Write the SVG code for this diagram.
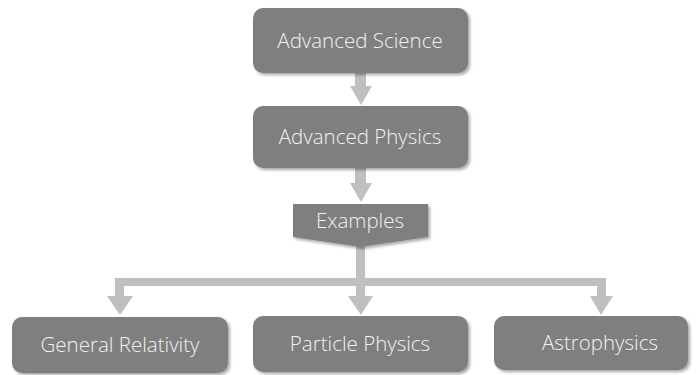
<svg xmlns="http://www.w3.org/2000/svg" width="699" height="375" viewBox="0 0 699 375">
<defs>
<filter id="sh" x="-10%" y="-10%" width="130%" height="140%">
<feDropShadow dx="2" dy="2" stdDeviation="1.5" flood-color="#000" flood-opacity="0.35"/>
</filter>
</defs>
<style>
.box{fill:#7f7f7f;filter:url(#sh);}
.lbl{font-family:"Open Sans","Liberation Sans",sans-serif;font-weight:300;font-size:20.5px;fill:#f2f2f2;text-anchor:middle;}
.ln{fill:#bfbfbf;}
</style>
<g id="connectors">
<rect class="ln" x="355" y="73" width="11" height="14"/>
<path class="ln" d="M350,86 L372,86 L361,105 Z"/>
<rect class="ln" x="355" y="168" width="11" height="16"/>
<path class="ln" d="M350,183 L372,183 L361,202 Z"/>
<rect class="ln" x="356" y="245" width="9" height="52"/>
<rect class="ln" x="115" y="278" width="491" height="8"/>
<rect class="ln" x="115" y="278" width="9" height="19"/>
<path class="ln" d="M107,296 L133,296 L120,315 Z"/>
<path class="ln" d="M348,296 L373,296 L361,315 Z"/>
<rect class="ln" x="597" y="278" width="9" height="19"/>
<path class="ln" d="M590,296 L613,296 L601,315 Z"/>
</g>
<g id="advanced-science">
<rect class="box" x="253" y="8" width="215" height="65" rx="10"/>
<text class="lbl" x="360" y="47.5">Advanced Science</text>
</g>
<g id="advanced-physics">
<rect class="box" x="253" y="106" width="215" height="62" rx="10"/>
<text class="lbl" x="360" y="144">Advanced Physics</text>
</g>
<g id="examples">
<path class="box" d="M293,204 L428,204 L428,237 L360.5,247 L293,237 Z"/>
<text class="lbl" x="360" y="228">Examples</text>
</g>
<g id="general-relativity">
<rect class="box" x="12" y="317" width="216" height="56" rx="10"/>
<text class="lbl" x="120" y="352">General Relativity</text>
</g>
<g id="particle-physics">
<rect class="box" x="253" y="316" width="215" height="56" rx="10"/>
<text class="lbl" x="360" y="351">Particle Physics</text>
</g>
<g id="astrophysics">
<rect class="box" x="494" y="316" width="194" height="54" rx="10"/>
<text class="lbl" x="600" y="350">Astrophysics</text>
</g>
</svg>
